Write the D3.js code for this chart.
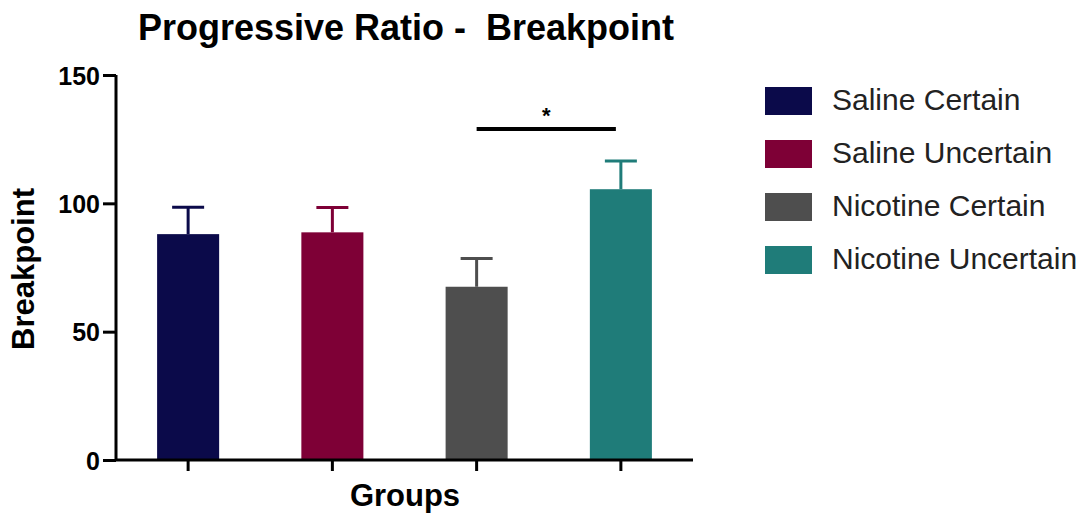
<!DOCTYPE html>
<html><head><meta charset="utf-8">
<script src="https://cdn.jsdelivr.net/npm/d3@7"></script>
<style>body{margin:0;background:#fff;} text{font-family:"Liberation Sans",Arial,sans-serif; white-space:pre;}</style>
</head><body>
<svg id="c" width="1091" height="514"></svg>
<script>
const categories = ["Saline Certain","Saline Uncertain","Nicotine Certain","Nicotine Uncertain"];
const means = [88, 88.7, 67.5, 105.5];
const errors = [10.5, 9.7, 11, 11];
const colors = ["#0b0a4a","#7e0036","#4e4e4e","#1f7c79"];
const yTicks = [0, 50, 100, 150];
const sig = {from: 2, to: 3, y: 129, label: "*"};

const svg = d3.select("#c");
const x = d3.scaleBand().domain(categories).range([116, 693]).paddingInner(0.57).paddingOuter(0.285);
const y = d3.scaleLinear().domain([0,150]).range([460,75]);

// bars
svg.selectAll("rect.bar").data(categories).join("rect")
  .attr("x", d=>x(d)).attr("width", x.bandwidth())
  .attr("y", (d,i)=>y(means[i])).attr("height", (d,i)=>y(0)-y(means[i]))
  .attr("fill", (d,i)=>colors[i]);
// error bars
const eg = svg.append("g");
categories.forEach((c,i)=>{
  const cx = x(c)+x.bandwidth()/2;
  eg.append("line").attr("x1",cx).attr("x2",cx).attr("y1",y(means[i])).attr("y2",y(means[i]+errors[i]))
    .attr("stroke",colors[i]).attr("stroke-width",3);
  eg.append("line").attr("x1",cx-16).attr("x2",cx+16).attr("y1",y(means[i]+errors[i])).attr("y2",y(means[i]+errors[i]))
    .attr("stroke",colors[i]).attr("stroke-width",3);
});

// axes
const yAxis = svg.append("g").attr("transform","translate(116,0)")
  .call(d3.axisLeft(y).tickValues(yTicks).tickSize(13).tickPadding(3));
const xAxis = svg.append("g").attr("transform","translate(0,460)")
  .call(d3.axisBottom(x).tickSize(11).tickFormat(""));
[yAxis,xAxis].forEach(a=>{
  a.select(".domain").attr("stroke","#000").attr("stroke-width",3);
  a.selectAll(".tick line").attr("stroke","#000").attr("stroke-width",3);
});
yAxis.select(".domain").attr("d","M0,460V75");
xAxis.select(".domain").attr("d","M116,0H693");
yAxis.selectAll(".tick text").attr("font-size",25).attr("font-weight","bold").attr("fill","#000")
  .attr("font-family","Liberation Sans, Arial, sans-serif").attr("dy","0.36em");

// significance
const sx1 = x(categories[sig.from])+x.bandwidth()/2, sx2 = x(categories[sig.to])+x.bandwidth()/2 - 5;
svg.append("line").attr("x1",sx1).attr("x2",sx2).attr("y1",y(sig.y)).attr("y2",y(sig.y))
  .attr("stroke","#000").attr("stroke-width",4);
svg.append("text").attr("x",(sx1+sx2)/2).attr("y",y(sig.y)-6).attr("text-anchor","middle")
  .attr("font-size",22).attr("font-weight","bold").text(sig.label);

// titles
svg.append("text").attr("x",406).attr("y",40).attr("text-anchor","middle")
  .attr("font-size",36).attr("font-weight","bold").attr("fill","#000").text("Progressive Ratio -  Breakpoint");
svg.append("text").attr("transform","translate(34,269) rotate(-90)").attr("text-anchor","middle")
  .attr("font-size",31).attr("font-weight","bold").text("Breakpoint");
svg.append("text").attr("x",405).attr("y",506).attr("text-anchor","middle")
  .attr("font-size",31).attr("font-weight","bold").text("Groups");

// legend
const lg = svg.append("g");
categories.forEach((c,i)=>{
  lg.append("rect").attr("x",765).attr("y",87+i*53).attr("width",47).attr("height",28).attr("fill",colors[i]);
  lg.append("text").attr("x",832).attr("y",110+i*53).attr("font-size",30).attr("fill","#222").text(c);
});
</script>
</body></html>
